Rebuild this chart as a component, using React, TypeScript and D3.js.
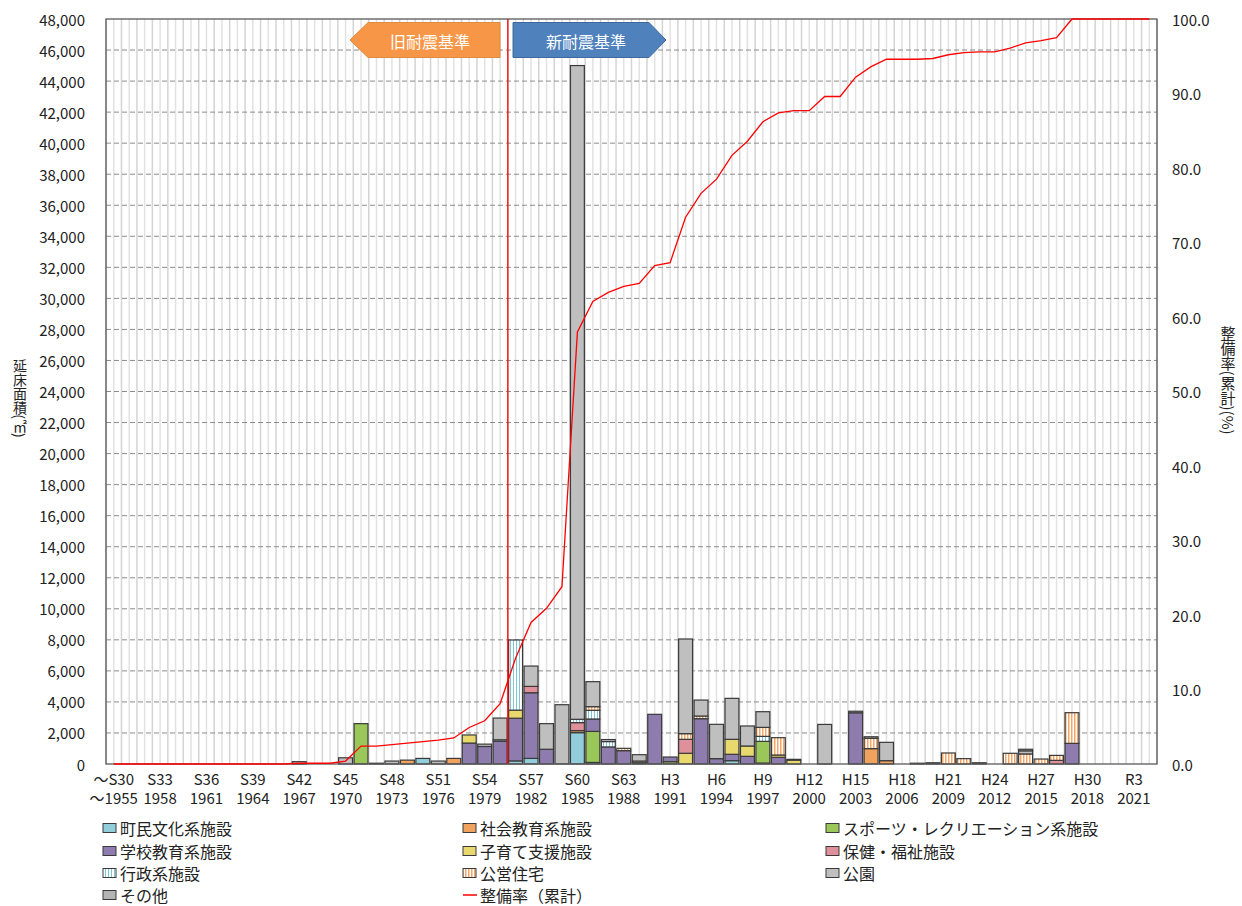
import React from "react";
import * as d3 from "d3";

// categories: construction years (～1955 … 2022)
const years = [
  1955, 1956, 1957, 1958, 1959, 1960, 1961, 1962, 1963, 1964,
  1965, 1966, 1967, 1968, 1969, 1970, 1971, 1972, 1973, 1974,
  1975, 1976, 1977, 1978, 1979, 1980, 1981, 1982, 1983, 1984,
  1985, 1986, 1987, 1988, 1989, 1990, 1991, 1992, 1993, 1994,
  1995, 1996, 1997, 1998, 1999, 2000, 2001, 2002, 2003, 2004,
  2005, 2006, 2007, 2008, 2009, 2010, 2011, 2012, 2013, 2014,
  2015, 2016, 2017, 2018, 2019, 2020, 2021, 2022,
];

const eraLabels: Record<number, string> = {
  1955: "～S30", 1958: "S33", 1961: "S36", 1964: "S39", 1967: "S42", 1970: "S45",
  1973: "S48", 1976: "S51", 1979: "S54", 1982: "S57", 1985: "S60", 1988: "S63",
  1991: "H3", 1994: "H6", 1997: "H9", 2000: "H12", 2003: "H15", 2006: "H18",
  2009: "H21", 2012: "H24", 2015: "H27", 2018: "H30", 2021: "R3",
};
const yearLabels: Record<number, string> = {
  1955: "～1955", 1958: "1958", 1961: "1961", 1964: "1964", 1967: "1967", 1970: "1970",
  1973: "1973", 1976: "1976", 1979: "1979", 1982: "1982", 1985: "1985", 1988: "1988",
  1991: "1991", 1994: "1994", 1997: "1997", 2000: "2000", 2003: "2003", 2006: "2006",
  2009: "2009", 2012: "2012", 2015: "2015", 2018: "2018", 2021: "2021",
};

// series values (m²), aligned with years
const bunka = [
  0, 0, 0, 0, 0, 0, 0, 0, 0, 0,
  0, 0, 0, 0, 0, 0, 0, 0, 0, 0,
  360, 0, 0, 0, 0, 0, 200, 360, 0, 0,
  2020, 100, 0, 0, 0, 0, 0, 0, 0, 0,
  215, 0, 60, 0, 0, 0, 0, 0, 0, 0,
  0, 0, 0, 0, 0, 0, 0, 0, 0, 0,
  0, 0, 0, 0, 0, 0, 0, 0,
];
const shakai = [
  0, 0, 0, 0, 0, 0, 0, 0, 0, 0,
  0, 0, 0, 0, 0, 0, 0, 0, 0, 250,
  0, 0, 360, 0, 0, 0, 0, 0, 0, 0,
  130, 0, 0, 0, 80, 0, 0, 0, 0, 0,
  0, 0, 0, 0, 0, 0, 0, 0, 0, 990,
  215, 0, 0, 0, 0, 0, 0, 0, 0, 0,
  0, 0, 0, 0, 0, 0, 0, 0,
];
const sports = [
  0, 0, 0, 0, 0, 0, 0, 0, 0, 0,
  0, 0, 0, 0, 0, 0, 2600, 0, 0, 0,
  0, 0, 0, 0, 0, 0, 0, 0, 0, 0,
  0, 2000, 0, 0, 0, 0, 150, 0, 0, 0,
  0, 0, 1400, 0, 0, 0, 0, 0, 0, 0,
  0, 0, 0, 0, 0, 0, 0, 0, 0, 0,
  0, 0, 0, 0, 0, 0, 0, 0,
];
const gakko = [
  0, 0, 0, 0, 0, 0, 0, 0, 0, 0,
  0, 0, 0, 0, 0, 0, 0, 0, 0, 0,
  0, 0, 0, 1350, 1130, 1460, 2750, 4230, 950, 0,
  0, 800, 1100, 860, 0, 3200, 300, 0, 2920, 345,
  410, 495, 0, 430, 0, 0, 0, 0, 3300, 0,
  0, 0, 0, 0, 0, 0, 0, 0, 0, 0,
  0, 0, 1330, 0, 0, 0, 0, 0,
];
const kosodate = [
  0, 0, 0, 0, 0, 0, 0, 0, 0, 0,
  0, 0, 0, 0, 0, 0, 0, 0, 0, 0,
  0, 0, 0, 520, 0, 0, 520, 0, 0, 0,
  0, 0, 0, 0, 0, 0, 0, 690, 0, 0,
  965, 665, 0, 150, 250, 0, 0, 0, 0, 0,
  0, 0, 0, 0, 0, 0, 0, 0, 0, 0,
  0, 0, 0, 0, 0, 0, 0, 0,
];
const hoken = [
  0, 0, 0, 0, 0, 0, 0, 0, 0, 0,
  0, 0, 0, 0, 0, 0, 0, 0, 0, 0,
  0, 0, 0, 0, 0, 0, 0, 410, 0, 0,
  515, 0, 0, 0, 0, 0, 0, 900, 0, 0,
  0, 0, 0, 0, 0, 0, 0, 0, 0, 0,
  0, 0, 0, 0, 0, 0, 0, 0, 0, 0,
  0, 235, 0, 0, 0, 0, 0, 0,
];
const gyosei = [
  0, 0, 0, 0, 0, 0, 0, 0, 0, 0,
  0, 0, 0, 0, 0, 0, 0, 0, 0, 0,
  0, 0, 0, 0, 0, 100, 4520, 0, 0, 0,
  215, 560, 345, 0, 0, 0, 0, 0, 0, 0,
  0, 0, 320, 0, 0, 0, 0, 0, 0, 0,
  0, 0, 0, 0, 0, 0, 0, 0, 0, 0,
  0, 0, 0, 0, 0, 0, 0, 0,
];
const koei = [
  0, 0, 0, 0, 0, 0, 0, 0, 0, 0,
  0, 0, 0, 0, 0, 0, 0, 0, 0, 0,
  0, 0, 0, 0, 0, 0, 0, 0, 0, 0,
  0, 235, 0, 150, 110, 0, 0, 365, 170, 0,
  0, 0, 580, 1115, 0, 0, 0, 0, 0, 665,
  0, 0, 0, 0, 710, 345, 0, 0, 690, 650,
  320, 320, 1975, 0, 0, 0, 0, 0,
];
const koen = [
  0, 0, 0, 0, 0, 0, 0, 0, 0, 0,
  0, 0, 150, 0, 0, 400, 0, 0, 190, 0,
  0, 190, 0, 0, 150, 1400, 0, 1310, 1650, 3820,
  42120, 1610, 130, 0, 410, 0, 0, 6100, 1030, 2210,
  2640, 1290, 1010, 0, 0, 0, 2550, 0, 0, 100,
  1180, 0, 0, 0, 0, 0, 0, 0, 0, 200,
  0, 0, 0, 0, 0, 0, 0, 0,
];
const sonota = [
  0, 0, 0, 0, 0, 0, 0, 0, 0, 0,
  0, 0, 0, 0, 0, 0, 0, 50, 0, 0,
  0, 0, 0, 0, 0, 0, 0, 0, 0, 0,
  0, 0, 0, 0, 0, 0, 0, 0, 0, 0,
  0, 0, 0, 0, 50, 0, 0, 0, 100, 0,
  0, 0, 50, 80, 0, 0, 80, 0, 0, 100,
  0, 0, 0, 0, 0, 0, 0, 0,
];
// cumulative rate (%)
const rate = [
  0, 0, 0, 0, 0, 0, 0, 0, 0, 0,
  0, 0, 0.1, 0.1, 0.1, 0.4, 2.4, 2.4, 2.6, 2.8,
  3.0, 3.2, 3.5, 4.9, 5.8, 8.1, 14.2, 19.0, 20.9, 23.8,
  58.0, 62.1, 63.3, 64.1, 64.5, 66.9, 67.3, 73.4, 76.6, 78.5,
  81.7, 83.6, 86.2, 87.4, 87.7, 87.7, 89.6, 89.6, 92.2, 93.6,
  94.6, 94.6, 94.6, 94.7, 95.2, 95.5, 95.6, 95.6, 96.1, 96.8,
  97.1, 97.5, 100, 100, 100, 100, 100, 100,
];

const leftTicks = [0, 2000, 4000, 6000, 8000, 10000, 12000, 14000, 16000, 18000, 20000, 22000, 24000, 26000, 28000, 30000, 32000, 34000, 36000, 38000, 40000, 42000, 44000, 46000, 48000];
const rightTicks = [0, 10, 20, 30, 40, 50, 60, 70, 80, 90, 100];

const seriesNames = [
  "町民文化系施設", "社会教育系施設", "スポーツ・レクリエーション系施設",
  "学校教育系施設", "子育て支援施設", "保健・福祉施設",
  "行政系施設", "公営住宅", "公園", "その他",
];
const seriesValues = [bunka, shakai, sports, gakko, kosodate, hoken, gyosei, koei, koen, sonota];
const seriesFills = [
  "#92CDDC", "#F0A35E", "#9BC65A", "#8E7CAE", "#E8D86E",
  "#E0909B", "url(#pGyosei)", "url(#pKoei)", "#BFBFBF", "#B4B4B4",
];

const leftTitle = "延床面積(㎡)";
const rightTitle = "整備率(累計)(%)";

const FONT = "'Noto Sans CJK JP', 'Noto Sans', sans-serif";

export default function App() {
  const W = 1242, H = 906;
  const L = 106, R = 1157, T = 19, B = 764;

  const x = d3.scaleBand<number>().domain(years).range([L, R]).paddingInner(0.1).paddingOuter(0.05);
  const step = x.step();
  const y = d3.scaleLinear().domain([0, 48000]).range([B, T]);
  const y2 = d3.scaleLinear().domain([0, 100]).range([B, T]);
  const cx = (yr: number) => (x(yr) as number) + x.bandwidth() / 2;

  const table = years.map((yr, i) => {
    const row: Record<string, number> = { year: yr };
    seriesNames.forEach((n, k) => (row[n] = seriesValues[k][i]));
    return row;
  });
  const stacked = d3.stack<Record<string, number>>().keys(seriesNames)(table);

  const line = d3.line<number>().x((_, i) => cx(years[i])).y((d) => y2(d));

  // vertical grid at band boundaries and centres
  const vgrid: number[] = [];
  for (let i = 0; i <= years.length * 2; i++) vgrid.push(L + (i * step) / 2);

  const fmtL = d3.format(",");
  const fmtR = d3.format(".1f");

  const legendCols = [103, 463, 826];
  const legendRows = [828, 851, 873, 895];

  const newStdX = (x(1981) as number) - (step - x.bandwidth()) / 2;
  const vStyle: React.CSSProperties = { writingMode: "vertical-rl" as any };

  return (
    <svg width={W} height={H} style={{ position: "absolute", left: 0, top: 0, display: "block" }} fontFamily={FONT}>
      <defs>
        <pattern id="pGyosei" width={3} height={4} patternUnits="userSpaceOnUse">
          <rect width={3} height={4} fill="#ffffff" />
          <rect x={0} width={1} height={4} fill="#7EC4D2" />
        </pattern>
        <pattern id="pKoei" width={3} height={4} patternUnits="userSpaceOnUse">
          <rect width={3} height={4} fill="#ffffff" />
          <rect x={0} width={1.5} height={4} fill="#F3A668" />
        </pattern>
      </defs>
      <rect width={W} height={H} fill="#ffffff" />

      {/* vertical grid */}
      {vgrid.map((gx, i) => (
        <line key={"vg" + i} x1={gx} x2={gx} y1={T} y2={B} stroke={i % 2 === 0 ? "#d4d4d4" : "#e2e2e2"} strokeWidth={1.5} />
      ))}
      {/* horizontal grid */}
      {leftTicks.filter((t) => t > 0 && t < 48000).map((t) => (
        <line key={"hg" + t} x1={L} x2={R} y1={y(t)} y2={y(t)} stroke="#8c8c8c" strokeWidth={1} strokeDasharray="5,3" />
      ))}

      {/* bars */}
      {stacked.map((s, k) => (
        <g key={"s" + k} fill={seriesFills[k]} stroke="#3a3a3a" strokeWidth={1.2}>
          {s.map((d, i) =>
            d[1] - d[0] > 0 ? (
              <rect key={i} x={x(years[i])} width={x.bandwidth()} y={y(d[1])} height={y(d[0]) - y(d[1])} />
            ) : null
          )}
        </g>
      ))}

      {/* plot border */}
      <rect x={L} y={T} width={R - L} height={B - T} fill="none" stroke="#595959" strokeWidth={1.3} />

      {/* new seismic standard line */}
      <line x1={newStdX} x2={newStdX} y1={T} y2={B} stroke="#ff0000" strokeWidth={1.3} />

      {/* cumulative line */}
      <path d={line(rate) || ""} fill="none" stroke="#ff0000" strokeWidth={1.3} />

      {/* arrows */}
      <polygon points="350,40 368,22.5 500,22.5 500,57.5 368,57.5" fill="#F79646" stroke="#E08A3F" strokeWidth={1} />
      <text x={430} y={41} fill="#ffffff" fontSize={16} textAnchor="middle" dominantBaseline="central">旧耐震基準</text>
      <polygon points="513,22.5 649,22.5 666,40 649,57.5 513,57.5" fill="#4F81BD" stroke="#3C6A9E" strokeWidth={1} />
      <text x={586} y={41} fill="#ffffff" fontSize={16} textAnchor="middle" dominantBaseline="central">新耐震基準</text>

      {/* left axis labels */}
      {leftTicks.map((t) => (
        <text key={"lt" + t} x={85} y={y(t)} fontSize={15} textAnchor="end" dominantBaseline="central" fill="#222">{fmtL(t)}</text>
      ))}
      {/* right axis labels */}
      {rightTicks.map((t) => (
        <text key={"rt" + t} x={1172} y={y2(t)} fontSize={15} textAnchor="start" dominantBaseline="central" fill="#222">{fmtR(t)}</text>
      ))}
      {/* x labels */}
      {years.filter((yr) => eraLabels[yr]).map((yr) => (
        <g key={"xl" + yr}>
          <text x={cx(yr)} y={778} fontSize={15} textAnchor="middle" dominantBaseline="central" fill="#222">{eraLabels[yr]}</text>
          <text x={cx(yr)} y={797} fontSize={15} textAnchor="middle" dominantBaseline="central" fill="#222">{yearLabels[yr]}</text>
        </g>
      ))}

      {/* axis titles */}
      <text x={20} y={398} fontSize={14} textAnchor="middle" fill="#222" style={vStyle}>{leftTitle}</text>
      <text x={1228} y={380} fontSize={15} textAnchor="middle" fill="#222" style={vStyle}>{rightTitle}</text>

      {/* legend */}
      {seriesNames.map((n, k) => {
        const col = k % 3, row = Math.floor(k / 3);
        const lx = legendCols[col], ly = legendRows[row];
        return (
          <g key={"lg" + k}>
            <rect x={lx} y={ly - 4.5} width={13} height={9} fill={seriesFills[k]} stroke="#3a3a3a" strokeWidth={1} />
            <text x={lx + 17} y={ly} fontSize={16} dominantBaseline="central" fill="#222">{n}</text>
          </g>
        );
      })}
      <line x1={legendCols[1]} x2={legendCols[1] + 14} y1={legendRows[3]} y2={legendRows[3]} stroke="#ff0000" strokeWidth={1.5} />
      <text x={legendCols[1] + 17} y={legendRows[3]} fontSize={16} dominantBaseline="central" fill="#222">整備率（累計）</text>
    </svg>
  );
}
